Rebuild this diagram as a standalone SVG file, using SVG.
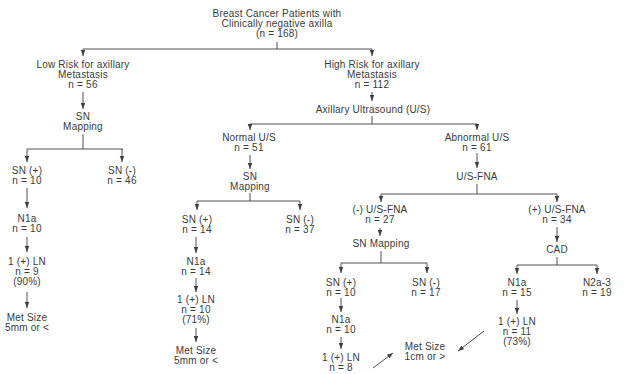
<svg xmlns="http://www.w3.org/2000/svg" width="632" height="374" viewBox="0 0 632 374">
<defs>
<style>
text{font-family:"Liberation Sans",Arial,sans-serif;font-size:10px;letter-spacing:0.2px;fill:#3a3a3a;text-anchor:middle}
.c path{stroke:#505050;stroke-width:1;fill:none}
.c path.a{marker-end:url(#ah)}
</style>
<marker id="ah" markerUnits="userSpaceOnUse" markerWidth="6" markerHeight="5" refX="6" refY="2.25" orient="auto">
<path d="M0,0 L6,2.25 L0,4.5 z" fill="#404040"/>
</marker>
</defs>
<rect width="632" height="374" fill="#fff"/>
<g class="c" id="connectors">
<path d="M277,42 V49 M83,49 H372"/>
<path class="a" d="M83,49 V56"/>
<path class="a" d="M372,49 V56"/>
<path class="a" d="M83,92 V109"/>
<path d="M83,134 V149 M27,149 H123"/>
<path class="a" d="M27,149 V162"/>
<path class="a" d="M122,149 V162"/>
<path class="a" d="M27,188 V208"/>
<path class="a" d="M27,237 V252"/>
<path class="a" d="M27,292 V308"/>
<path class="a" d="M372,92 V101"/>
<path d="M372,116 V124 M250,124 H477"/>
<path class="a" d="M250,124 V130"/>
<path class="a" d="M477,124 V130"/>
<path class="a" d="M250,155 V169"/>
<path d="M250,193 V201 M197,201 H300"/>
<path class="a" d="M197,201 V210"/>
<path class="a" d="M300,201 V210"/>
<path class="a" d="M196,237 V253"/>
<path class="a" d="M196,278 V292"/>
<path class="a" d="M196,328 V342"/>
<path class="a" d="M477,153 V168"/>
<path d="M477,184 V194 M381,194 H557"/>
<path class="a" d="M381,194 V202"/>
<path class="a" d="M557,194 V202"/>
<path class="a" d="M380,228 V236"/>
<path class="a" d="M557,227 V242"/>
<path d="M381,251 V263 M341,263 H427"/>
<path class="a" d="M341,263 V273"/>
<path class="a" d="M427,263 V273"/>
<path class="a" d="M341,298 V312"/>
<path class="a" d="M341,337 V349"/>
<path class="a" d="M373,368 L393,353"/>
<path d="M557,257 V265 M517,265 H597"/>
<path class="a" d="M517,265 V274"/>
<path class="a" d="M597,265 V274"/>
<path class="a" d="M517,300 V314"/>
<path class="a" d="M484,331 L458,351"/>
</g>
<g id="root"><text x="277" y="17">Breast Cancer Patients with</text><text x="277" y="27">Clinically negative axilla</text><text x="277" y="37">(n = 168)</text></g>
<g id="lowrisk"><text x="83" y="68">Low Risk for axillary</text><text x="83" y="78">Metastasis</text><text x="83" y="88">n = 56</text></g>
<g id="highrisk"><text x="372" y="68">High Risk for axillary</text><text x="372" y="78">Metastasis</text><text x="372" y="88">n = 112</text></g>
<g id="snmap1"><text x="83" y="120">SN</text><text x="83" y="130">Mapping</text></g>
<g id="snpos1"><text x="27" y="174">SN (+)</text><text x="27" y="184">n = 10</text></g>
<g id="snneg1"><text x="122" y="174">SN (-)</text><text x="122" y="184">n = 46</text></g>
<g id="n1a1"><text x="27" y="222">N1a</text><text x="27" y="232">n = 10</text></g>
<g id="ln1"><text x="27" y="265">1 (+) LN</text><text x="27" y="275">n = 9</text><text x="27" y="285">(90%)</text></g>
<g id="met1"><text x="27" y="321">Met Size</text><text x="27" y="331">5mm or &lt;</text></g>
<g id="axus"><text x="373" y="113">Axillary Ultrasound (U/S)</text></g>
<g id="normalus"><text x="249" y="141">Normal U/S</text><text x="249" y="151">n = 51</text></g>
<g id="snmap2"><text x="250" y="180">SN</text><text x="250" y="190">Mapping</text></g>
<g id="snpos2"><text x="197" y="223">SN (+)</text><text x="197" y="233">n = 14</text></g>
<g id="snneg2"><text x="300" y="223">SN (-)</text><text x="300" y="233">n = 37</text></g>
<g id="n1a2"><text x="196" y="265">N1a</text><text x="196" y="275">n = 14</text></g>
<g id="ln2"><text x="196" y="303">1 (+) LN</text><text x="196" y="313">n = 10</text><text x="196" y="323">(71%)</text></g>
<g id="met2"><text x="196" y="354">Met Size</text><text x="196" y="364">5mm or &lt;</text></g>
<g id="abnormalus"><text x="477" y="141">Abnormal U/S</text><text x="477" y="151">n = 61</text></g>
<g id="usfna"><text x="477" y="180">U/S-FNA</text></g>
<g id="negfna"><text x="380" y="213">(-) U/S-FNA</text><text x="380" y="223">n = 27</text></g>
<g id="posfna"><text x="557" y="213">(+) U/S-FNA</text><text x="557" y="223">n = 34</text></g>
<g id="snmap3"><text x="381" y="247">SN Mapping</text></g>
<g id="snpos3"><text x="341" y="286">SN (+)</text><text x="341" y="296">n = 10</text></g>
<g id="snneg3"><text x="426" y="286">SN (-)</text><text x="426" y="296">n = 17</text></g>
<g id="n1a3"><text x="341" y="323">N1a</text><text x="341" y="333">n = 10</text></g>
<g id="ln3"><text x="341" y="361">1 (+) LN</text><text x="341" y="371">n = 8</text></g>
<g id="met3"><text x="425" y="350">Met Size</text><text x="425" y="360">1cm or &gt;</text></g>
<g id="cad"><text x="557" y="253">CAD</text></g>
<g id="n1a4"><text x="517" y="286">N1a</text><text x="517" y="296">n = 15</text></g>
<g id="n2a3"><text x="597" y="286">N2a-3</text><text x="597" y="296">n = 19</text></g>
<g id="ln4"><text x="517" y="325">1 (+) LN</text><text x="517" y="335">n = 11</text><text x="517" y="345">(73%)</text></g>
</svg>
